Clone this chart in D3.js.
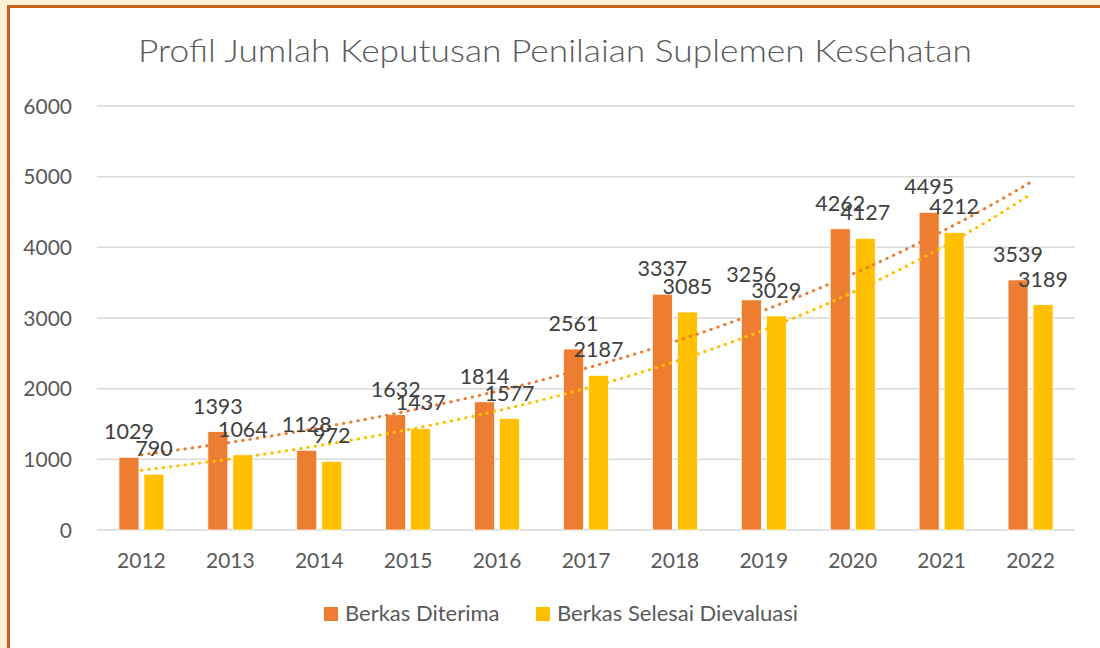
<!DOCTYPE html>
<html lang="id">
<head>
<meta charset="UTF-8">
<title>Profil Jumlah Keputusan Penilaian Suplemen Kesehatan</title>
<style>
  body { margin: 0; background: #fdf0d8; }
  svg { display: block; font-family: Lato, "Open Sans", sans-serif; }
  .grid line { stroke: #d9d9d9; stroke-width: 1.5; }
  .tick-label { fill: #595959; font-size: 21px; }
  .legend-label { fill: #595959; font-size: 22px; }
  .data-label { fill: #404040; font-size: 21.5px; }
  .trend { fill: none; stroke-width: 3; stroke-linecap: round; stroke-dasharray: 0.5 6.8; }
</style>
</head>
<body>
<div id="chart"></div>
<script src="https://d3js.org/d3.v7.min.js"></script>
<script>
const years = ["2012", "2013", "2014", "2015", "2016", "2017", "2018", "2019", "2020", "2021", "2022"];
const diterima = [1029, 1393, 1128, 1632, 1814, 2561, 3337, 3256, 4262, 4495, 3539];
const dievaluasi = [790, 1064, 972, 1437, 1577, 2187, 3085, 3029, 4127, 4212, 3189];
const seriesNames = ["Berkas Diterima", "Berkas Selesai Dievaluasi"];
const colors = ["#ed7d31", "#ffc000"];
const yTicks = [0, 1000, 2000, 3000, 4000, 5000, 6000];

const width = 1100, height = 648;
const margin = { left: 97, right: 25, top: 106, bottom: 118 };

const svg = d3.select('#chart').append('svg')
  .attr('width', width)
  .attr('height', height);

// chart frame
svg.append('rect')
  .attr('x', 8.5).attr('y', 6.5)
  .attr('width', 1100).attr('height', 660)
  .attr('fill', '#fff')
  .attr('stroke', '#cc6218')
  .attr('stroke-width', 3);

svg.append('text')
  .attr('x', 555).attr('y', 62)
  .attr('text-anchor', 'middle')
  .attr('fill', '#595959')
  .attr('font-size', 31)
  .attr('font-weight', 300)
  .attr('textLength', 834)
  .attr('lengthAdjust', 'spacingAndGlyphs')
  .text('Profil Jumlah Keputusan Penilaian Suplemen Kesehatan');

const x = d3.scaleBand().domain(years)
  .range([margin.left, width - margin.right]);
const y = d3.scaleLinear().domain([0, 6000])
  .range([height - margin.bottom, margin.top]);

const barW = 20, barGap = 5;
const offsets = [-(barW + barGap / 2), barGap / 2];

// gridlines
svg.append('g').attr('class', 'grid')
  .selectAll('line')
  .data(yTicks)
  .enter()
  .append('line')
  .attr('x1', margin.left)
  .attr('x2', width - margin.right)
  .attr('y1', d => y(d))
  .attr('y2', d => y(d));

svg.append('g')
  .selectAll('text')
  .data(yTicks)
  .enter()
  .append('text')
  .classed('tick-label', true)
  .attr('x', 72)
  .attr('y', d => y(d))
  .attr('dy', '0.36em')
  .attr('text-anchor', 'end')
  .text(d => d);

svg.append('g')
  .selectAll('text')
  .data(years)
  .enter()
  .append('text')
  .classed('tick-label', true)
  .attr('x', d => x(d) + x.bandwidth() / 2)
  .attr('y', 568)
  .attr('text-anchor', 'middle')
  .text(d => d);

const series = [diterima, dievaluasi];

// bars
series.forEach((vals, s) => {
  svg.append('g')
    .selectAll('rect')
    .data(vals)
    .enter()
    .append('rect')
    .attr('x', (d, i) => x(years[i]) + x.bandwidth() / 2 + offsets[s])
    .attr('y', d => y(d))
    .attr('width', barW)
    .attr('height', d => y(0) - y(d))
    .attr('fill', colors[s])
    .attr('stroke', '#fff')
    .attr('stroke-width', 0.75);
});

// exponential trendlines (least squares on ln values, like Excel)
series.forEach((vals, s) => {
  const n = vals.length;
  const xs = d3.range(n);
  const ls = vals.map(v => Math.log(v));
  const mx = d3.mean(xs), ml = d3.mean(ls);
  const b = d3.sum(xs, i => (i - mx) * (ls[i] - ml)) / d3.sum(xs, i => (i - mx) ** 2);
  const a = ml - b * mx;
  const pts = d3.range(0, n - 1 + 1e-9, 0.05).map(t => [t, Math.exp(a + b * t)]);
  const first = x(years[0]) + x.bandwidth() / 2;
  const line = d3.line()
    .x(p => first + p[0] * x.step())
    .y(p => y(p[1]));
  svg.append('path')
    .datum(pts)
    .attr('class', 'trend')
    .attr('stroke', colors[s])
    .attr('d', line);
});

// data labels (they overlap in the original too)
series.forEach((vals, s) => {
  svg.append('g')
    .selectAll('text')
    .data(vals)
    .enter()
    .append('text')
    .classed('data-label', true)
    .attr('x', (d, i) => x(years[i]) + x.bandwidth() / 2 + offsets[s] + barW / 2)
    .attr('y', d => y(d) - 18)
    .attr('text-anchor', 'middle')
    .text(d => d);
});

// legend
const legendX = [324, 536];
const leg = svg.append('g');
seriesNames.forEach((name, s) => {
  leg.append('rect')
    .attr('x', legendX[s]).attr('y', 607)
    .attr('width', 14).attr('height', 14)
    .attr('fill', colors[s]);
  leg.append('text')
    .classed('legend-label', true)
    .attr('x', legendX[s] + 21)
    .attr('y', 621)
    .text(name);
});
</script>
</body>
</html>
